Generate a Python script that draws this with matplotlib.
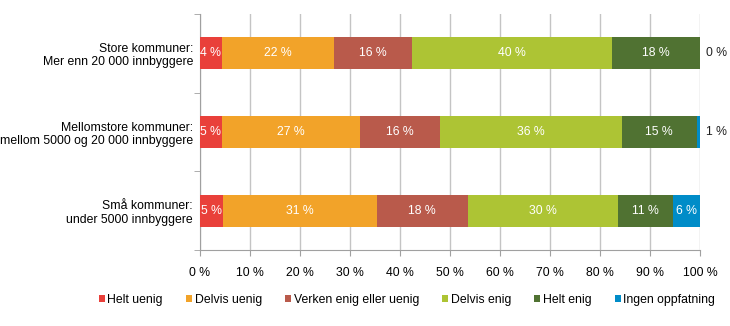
import numpy as np
import matplotlib.pyplot as plt
from matplotlib.patches import Patch

# =========================================================
# DATA
# =========================================================

categories = [
    "Store kommuner:\nMer enn 20 000 innbyggere",
    "Mellomstore kommuner:\nmellom 5000 og 20 000 innbyggere",
    "Små kommuner:\nunder 5000 innbyggere",
]

series_names = [
    "Helt uenig",
    "Delvis uenig",
    "Verken enig eller uenig",
    "Delvis enig",
    "Helt enig",
    "Ingen oppfatning",
]

# one list per category, in series order (percent)
store = [4.4, 22.3, 15.6, 40.1, 17.6, 0.0]
mellomstore = [4.4, 27.5, 16.0, 36.4, 15.0, 0.8]
smaa = [4.6, 30.8, 18.1, 30.1, 11.0, 5.4]

# printed labels (as shown on the chart)
store_lbl = [4, 22, 16, 40, 18, 0]
mellomstore_lbl = [5, 27, 16, 36, 15, 1]
smaa_lbl = [5, 31, 18, 30, 11, 6]

colors = ["#E9403A", "#F2A329", "#B95A4B", "#ADC434", "#507232", "#008CC8"]

# =========================================================
# FIGURE
# =========================================================

plt.rcParams["font.family"] = ["Liberation Sans", "DejaVu Sans"]

fig = plt.figure(figsize=(7.3, 3.26), dpi=100)
ax = fig.add_axes([200 / 730, 1 - 250 / 326, 500 / 730, 236 / 326])

values = np.array([store, mellomstore, smaa])
labels = np.array([store_lbl, mellomstore_lbl, smaa_lbl])
ypos = np.arange(len(categories))

left = np.zeros(len(categories))
for j, name in enumerate(series_names):
    vals = values[:, j]
    ax.barh(ypos, vals, left=left, height=0.41, color=colors[j],
            label=name, zorder=3)
    for i in range(len(categories)):
        txt = f"{labels[i, j]} %"
        if vals[i] >= 3:
            ax.text(left[i] + vals[i] / 2, ypos[i], txt, ha="center",
                    va="center", color="white", fontsize=8.8, zorder=4)
        elif j == len(series_names) - 1:
            ax.text(101.2, ypos[i], txt, ha="left", va="center",
                    color="#222222", fontsize=8.8, clip_on=False)
    left += vals

ax.set_xlim(0, 100)
ax.set_ylim(2.5, -0.5)

ax.set_xticks(np.arange(0, 101, 10))
ax.set_xticklabels([f"{v} %" for v in range(0, 101, 10)], fontsize=8.8)
ax.set_yticks(ypos)
ax.set_yticklabels(categories, fontsize=8.8, linespacing=1.15)
ax.set_yticks([-0.5, 0.5, 1.5, 2.5], minor=True)

ax.tick_params(axis="y", which="major", length=0, pad=5)
ax.tick_params(axis="y", which="minor", length=4, color="#A0A0A0", direction="out")
ax.tick_params(axis="x", length=4, color="#A0A0A0", pad=8)

ax.grid(axis="x", color="#C4C4C4", linewidth=1, zorder=0)

for side in ["top", "right"]:
    ax.spines[side].set_visible(False)
for side in ["left", "bottom"]:
    ax.spines[side].set_color("#A0A0A0")

# =========================================================
# LEGEND
# =========================================================

handles = [Patch(facecolor=c, label=n) for c, n in zip(colors, series_names)]
fig.legend(handles=handles, loc="center", bbox_to_anchor=(407 / 730, 1 - 300 / 326),
           ncol=6, frameon=False, fontsize=8.8, handlelength=0.5,
           handleheight=0.5, handletextpad=0.2, columnspacing=1.9)

fig.savefig("out.png", dpi=100)
